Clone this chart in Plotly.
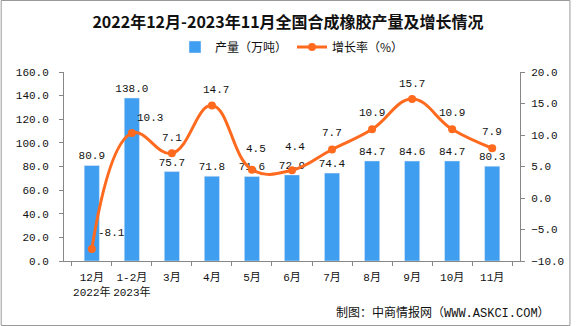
import plotly.graph_objects as go

categories = ["12月<br>2022年", "1-2月<br>2023年", "3月", "4月", "5月", "6月", "7月", "8月", "9月", "10月", "11月"]
output = [80.9, 138.0, 75.7, 71.8, 71.6, 72.9, 74.4, 84.7, 84.6, 84.7, 80.3]
growth = [-8.1, 10.3, 7.1, 14.7, 4.5, 4.4, 7.7, 10.9, 15.7, 10.9, 7.9]

# label placement for growth labels (style only)
lab_dx = [20, 18, 0, 4, 4, 3, 0, 0, 0, 0, 0]
lab_dy = [16, 15, 15, 15, 21, 23, 16, 16, 15, 16, 16]

FONT = "Liberation Mono, Noto Sans CJK SC, monospace"
W, H = 576, 326
L, R, T, B = 64, 51, 72, 65
pw, ph = W - L - R, H - T - B

fig = go.Figure()
fig.add_trace(go.Bar(
    x=categories, y=output, name="产量（万吨）",
    marker_color="#409EF0", width=0.38,
    text=[f"{v:.1f}" for v in output], textposition="outside", constraintext="none",
    textfont=dict(family=FONT, size=11, color="#111"), cliponaxis=False,
))
fig.add_trace(go.Scatter(
    x=categories, y=growth, name="增长率（%）", yaxis="y2",
    mode="lines+markers", line=dict(color="#FF6A1E", width=3, shape="spline", smoothing=1.2),
    marker=dict(size=8, color="#FF6A1E"), cliponaxis=False,
))

annotations = []
for c, v, dx, dy in zip(categories, growth, lab_dx, lab_dy):
    annotations.append(dict(x=c, y=v, xref="x", yref="y2", text=f"{v:.1f}", showarrow=False,
                            xshift=dx, yshift=dy, font=dict(family=FONT, size=11, color="#111")))
annotations.append(dict(text="制图：中商情报网（WWW.ASKCI.COM）", xref="paper", yref="paper",
                        x=(557 - L) / pw, xanchor="right", y=(261 - 313) / ph, yanchor="middle",
                        showarrow=False, font=dict(family=FONT, size=12, color="#111")))

fig.update_layout(
    width=W, height=H,
    margin=dict(l=L, r=R, t=T, b=B),
    paper_bgcolor="white", plot_bgcolor="white",
    font=dict(family=FONT, size=11, color="#111"),
    title=dict(text="<b>2022年12月-2023年11月全国合成橡胶产量及增长情况</b>",
               x=0.5, xanchor="center", y=1 - 22 / H, yanchor="middle",
               font=dict(family="Noto Sans CJK SC", size=16, color="#111")),
    legend=dict(orientation="h", x=0.5, xanchor="center", y=1 + (72 - 47) / ph, yanchor="middle",
                font=dict(family="Noto Sans CJK SC", size=12, color="#111"),
                itemwidth=30, bgcolor="rgba(0,0,0,0)"),
    showlegend=True,
    xaxis=dict(type="category", showline=True, linecolor="#888", linewidth=1,
               ticks="outside", tickson="boundaries", ticklen=4, tickcolor="#888",
               ticklabelstandoff=6,
               tickangle=0, showgrid=False, tickfont=dict(family=FONT, size=11)),
    yaxis=dict(range=[0, 160], dtick=20, tickformat=".1f", showline=True, linecolor="#888",
               ticks="outside", ticklen=4, tickcolor="#888", showgrid=False, zeroline=False,
               ticklabelstandoff=8, tickfont=dict(family=FONT, size=11)),
    yaxis2=dict(range=[-10, 20], dtick=5, tickformat=".1f", overlaying="y", side="right",
                showline=True, linecolor="#888", ticks="outside", ticklen=4, tickcolor="#888",
                showgrid=False, zeroline=False, ticklabelstandoff=4, tickfont=dict(family=FONT, size=11)),
    annotations=annotations,
    shapes=[dict(type="rect", xref="paper", yref="paper",
                 x0=(0.5 - L) / pw, x1=(W - 0.5 - L) / pw,
                 y0=(H - B - (H - 0.5)) / ph, y1=(H - B - 0.5) / ph,
                 line=dict(color="#999", width=1), fillcolor="rgba(0,0,0,0)", layer="below")],
)

fig.write_html("out.html")
